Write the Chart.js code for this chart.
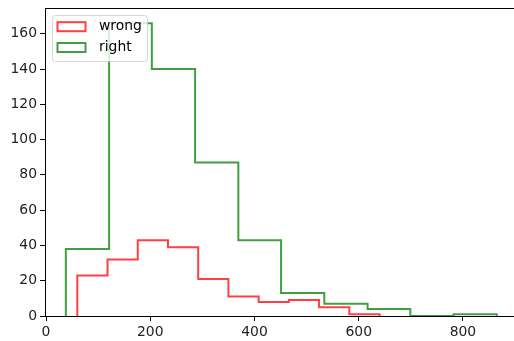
<!DOCTYPE html>
<html>
<head>
<meta charset="utf-8">
<script src="https://cdn.jsdelivr.net/npm/chart.js@4"></script>
<style>
  html, body { margin: 0; padding: 0; background: #fff; }
</style>
</head>
<body>
<canvas id="myChart" width="514" height="341"></canvas>
<script>
// bin edges and counts
let wrongEdges = [60, 118, 176, 234, 292, 350, 408, 466, 524, 582, 640];
let wrongCounts = [23, 32, 43, 39, 21, 11, 8, 9, 5, 1];
let rightEdges = [38, 121, 203, 286, 369, 451, 534, 617, 699, 782, 865];
let rightCounts = [38, 166, 140, 87, 43, 13, 7, 4, 0, 1];
let xTicks = [0, 200, 400, 600, 800];
let yTicks = [0, 20, 40, 60, 80, 100, 120, 140, 160];

let red = 'rgba(255, 0, 0, 0.75)';
let green = 'rgba(0, 128, 0, 0.75)';
let font = { family: 'DejaVu Sans', size: 13.9 };

// outline of a step histogram: up from the base, across each bin, down at the end
function stepPoints(edges, counts) {
    let pts = [{ x: edges[0], y: 0 }];
    counts.forEach((c, i) => pts.push({ x: edges[i], y: c }));
    pts.push({ x: edges[edges.length - 1], y: 0 });
    return pts;
}

// matplotlib-like legend box in the upper left + top spine
const boxLegend = {
    id: 'boxLegend',
    afterDraw(chart) {
        const ctx = chart.ctx;
        const area = chart.chartArea;
        ctx.save();
        ctx.strokeStyle = '#000';
        ctx.lineWidth = 1;
        ctx.beginPath();
        ctx.moveTo(area.left, area.top + 0.5);
        ctx.lineTo(area.right, area.top + 0.5);
        ctx.stroke();

        ctx.fillStyle = 'rgba(255,255,255,0.8)';
        ctx.strokeStyle = 'rgba(204,204,204,0.8)';
        ctx.beginPath();
        ctx.roundRect(52.5, 15.5, 95, 46, 3);
        ctx.fill();
        ctx.stroke();

        chart.data.datasets.forEach((ds, i) => {
            const cy = 26.7 + i * 20.8;
            ctx.strokeStyle = ds.borderColor;
            ctx.lineWidth = 2;
            ctx.strokeRect(57.5, cy - 4.5, 28, 9);
            ctx.fillStyle = '#000';
            ctx.font = '13.9px "DejaVu Sans"';
            ctx.textBaseline = 'middle';
            ctx.fillText(ds.label, 99, cy);
        });
        ctx.restore();
    }
};

let chart = new Chart(document.getElementById('myChart').getContext('2d'), {
    type: 'line',
    data: {
        datasets: [{
            label: 'wrong',
            data: stepPoints(wrongEdges, wrongCounts),
            borderColor: red,
            borderWidth: 2,
            stepped: 'before',
            pointRadius: 0,
            fill: false
        }, {
            label: 'right',
            data: stepPoints(rightEdges, rightCounts),
            borderColor: green,
            borderWidth: 2,
            stepped: 'before',
            pointRadius: 0,
            fill: false
        }]
    },
    options: {
        responsive: false,
        animation: false,
        devicePixelRatio: 1,
        layout: { padding: { top: 8, right: 0, left: 0, bottom: 0 } },
        plugins: {
            legend: { display: false },
            tooltip: { enabled: false }
        },
        scales: {
            x: {
                type: 'linear',
                min: -2,
                max: 898,
                afterBuildTicks: (s) => { s.ticks = xTicks.map(v => ({ value: v })); },
                afterFit: (s) => { s.height = 25; s.paddingLeft = 0; s.paddingRight = 0; },
                grid: { drawOnChartArea: false, drawTicks: true, tickLength: 5, color: '#000' },
                border: { display: true, color: '#000', width: 1 },
                ticks: { font: font, color: '#222', padding: 3, maxRotation: 0 }
            },
            y: {
                min: 0,
                max: 174.6,
                afterBuildTicks: (s) => { s.ticks = yTicks.map(v => ({ value: v })); },
                afterFit: (s) => { s.width = 45; s.paddingTop = 0; s.paddingBottom = 0; },
                grid: { drawOnChartArea: false, drawTicks: true, tickLength: 5, color: '#000' },
                border: { display: true, color: '#000', width: 1 },
                ticks: { font: font, color: '#222', padding: 3 }
            }
        }
    },
    plugins: [boxLegend]
});
</script>
</body>
</html>
